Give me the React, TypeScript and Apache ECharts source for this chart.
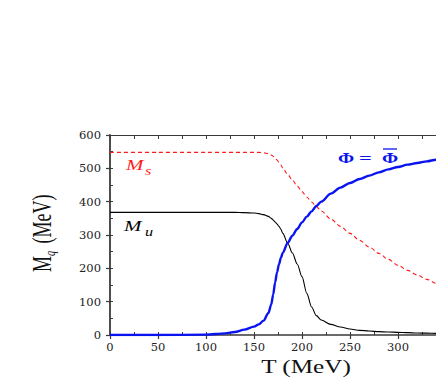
import React, { useEffect, useRef } from "react";
import * as echarts from "echarts";

const T = [0, 50, 100, 120, 130, 140, 150, 155, 160, 165, 168, 170, 172, 174, 176, 178, 180, 185, 190, 195, 200, 205, 210, 215, 220, 230, 240, 250, 260, 270, 280, 290, 300, 310, 320, 330, 340, 350];
const Mu = [368, 368, 368, 368, 368, 367, 366, 364, 361, 356, 350, 345, 339, 333, 326, 317, 305, 276, 246, 213, 175, 125, 84, 58, 45, 32, 24, 18, 14, 12, 10, 9, 8, 7, 6, 5.5, 5, 4.5];
const Ms = [548, 548, 548, 548, 548, 548, 548, 548, 547, 544, 540, 536, 530, 525, 518, 510, 501, 482, 465, 447, 430, 414, 399, 385, 372, 348, 326, 305, 284, 264, 245, 227, 209, 194, 180, 167, 155, 145];
const Phi = [0, 0, 1, 5, 9, 16, 25, 32, 43, 66, 92, 122, 158, 188, 212, 231, 247, 276, 298, 318, 338, 355, 371, 387, 400, 424, 442, 456, 468, 478, 488, 497, 504, 511, 516, 521, 526, 530];

const xLabel = "T (MeV)";
const yLabelMain = "M";
const yLabelSub = "q";
const yLabelUnit = " (MeV)";

const pairs = (ys: number[]) => T.map((t, i) => [t, ys[i]]);

const AXIS = "#3a3a3a";
const serif = "'Liberation Serif', 'Times New Roman', serif";
const BLUE = "#0a14f0";

export default function App() {
  const ref = useRef<HTMLDivElement>(null);
  useEffect(() => {
    if (!ref.current) return;
    const chart = echarts.init(ref.current, undefined, { renderer: "svg" });
    const tickFont = { fontFamily: "DejaVu Serif", fontSize: 11.5, color: "#222" };
    chart.setOption({
      animation: false,
      backgroundColor: "#fff",
      grid: { left: 110, top: 135, right: 14, bottom: 47 },
      xAxis: [
        {
          type: "value", min: 0, max: 350, interval: 50, position: "bottom",
          axisLine: { show: true, onZero: false, lineStyle: { color: AXIS, width: 1.5 } },
          axisTick: { show: true, inside: false, length: 4, lineStyle: { color: AXIS, width: 1.2 } },
          axisLabel: { ...tickFont, margin: 6, showMaxLabel: false },
          splitLine: { show: false },
        },
        {
          type: "value", min: 0, max: 350, interval: 25, position: "top",
          axisLine: { show: true, onZero: false, lineStyle: { color: AXIS, width: 1.2 } },
          axisTick: { show: true, inside: true, length: 4, lineStyle: { color: AXIS, width: 1 } },
          axisLabel: { show: false },
          splitLine: { show: false },
        },
        {
          type: "value", min: 0, max: 350, interval: 25, position: "bottom",
          axisLine: { show: false, onZero: false },
          axisTick: { show: true, inside: true, length: 3, lineStyle: { color: AXIS, width: 1 } },
          axisLabel: { show: false },
          splitLine: { show: false },
        },
      ],
      yAxis: [
        {
          type: "value", min: 0, max: 600, interval: 100, position: "left",
          axisLine: { show: true, onZero: false, lineStyle: { color: AXIS, width: 1.8 } },
          axisTick: { show: true, inside: false, length: 4, lineStyle: { color: AXIS, width: 1.2 } },
          axisLabel: { ...tickFont, margin: 9 },
          splitLine: { show: false },
        },
        {
          type: "value", min: 0, max: 600, interval: 50, position: "left",
          axisLine: { show: false, onZero: false },
          axisTick: { show: true, inside: true, length: 3, lineStyle: { color: AXIS, width: 1 } },
          axisLabel: { show: false },
          splitLine: { show: false },
        },
        {
          type: "value", min: 0, max: 600, interval: 100, position: "right",
          axisLine: { show: true, onZero: false, lineStyle: { color: AXIS, width: 1.5 } },
          axisTick: { show: true, inside: true, length: 4 },
          axisLabel: { show: false },
          splitLine: { show: false },
        },
      ],
      series: [
        {
          type: "line", name: "Ms", data: pairs(Ms), showSymbol: false, smooth: 0.3, smoothMonotone: "x",
          lineStyle: { color: "#ff1a1a", width: 1.1, type: [4, 3] }, z: 3,
        },
        {
          type: "line", name: "Mu", data: pairs(Mu), showSymbol: false, smooth: 0.3, smoothMonotone: "x",
          lineStyle: { color: "#000", width: 1.1 }, z: 3,
        },
        {
          type: "line", name: "Phi", data: pairs(Phi), showSymbol: false, smooth: 0.3, smoothMonotone: "x",
          lineStyle: { color: BLUE, width: 2.4 }, z: 4,
        },
      ],
      graphic: [
        {
          type: "text", x: 306, y: 367, scaleX: 1.4,
          style: { text: xLabel, font: `18px ${serif}`, fill: "#111", textAlign: "center", textVerticalAlign: "middle" },
        },
        {
          type: "group", x: 41, y: 236, rotation: Math.PI / 2,
          children: [
            {
              type: "text", x: -36, y: 0, scaleY: 1.55,
              style: { text: yLabelMain, font: `18px ${serif}`, fill: "#111", textAlign: "left", textVerticalAlign: "middle" },
            },
            {
              type: "text", x: -20, y: 9, scaleY: 1.55,
              style: { text: yLabelSub, font: `italic 10px ${serif}`, fill: "#111", textAlign: "left", textVerticalAlign: "middle" },
            },
            {
              type: "text", x: -12, y: 0, scaleY: 1.55,
              style: { text: yLabelUnit, font: `18px ${serif}`, fill: "#111", textAlign: "left", textVerticalAlign: "middle" },
            },
          ],
        },
        {
          type: "text", x: 126, y: 165, scaleX: 1.4,
          style: { text: "M", font: `italic 15px ${serif}`, fill: "#ff1a1a", textAlign: "left", textVerticalAlign: "middle" },
        },
        {
          type: "text", x: 145, y: 171, scaleX: 1.35,
          style: { text: "s", font: `italic 12px ${serif}`, fill: "#ff1a1a", textAlign: "left", textVerticalAlign: "middle" },
        },
        {
          type: "text", x: 124, y: 226, scaleX: 1.4,
          style: { text: "M", font: `italic 15px ${serif}`, fill: "#000", textAlign: "left", textVerticalAlign: "middle" },
        },
        {
          type: "text", x: 145, y: 232, scaleX: 1.35,
          style: { text: "u", font: `italic 12px ${serif}`, fill: "#000", textAlign: "left", textVerticalAlign: "middle" },
        },
        {
          type: "text", x: 338, y: 158, scaleX: 1.3,
          style: { text: "\u03A6", font: `bold 15px ${serif}`, fill: BLUE, textAlign: "left", textVerticalAlign: "middle" },
        },
        {
          type: "text", x: 359, y: 158, scaleX: 1.5,
          style: { text: "=", font: `bold 15px ${serif}`, fill: BLUE, textAlign: "left", textVerticalAlign: "middle" },
        },
        {
          type: "text", x: 382, y: 158, scaleX: 1.3,
          style: { text: "\u03A6", font: `bold 15px ${serif}`, fill: BLUE, textAlign: "left", textVerticalAlign: "middle" },
        },
        {
          type: "line", shape: { x1: 383, y1: 149, x2: 397, y2: 149 },
          style: { stroke: BLUE, lineWidth: 1.3 },
        },
      ],
    });
    return () => chart.dispose();
  }, []);
  return (
    <div style={{ position: "fixed", left: 0, top: 0, width: 436, height: 382, overflow: "hidden", background: "#fff" }}>
      <div ref={ref} style={{ width: 460, height: 382 }} />
    </div>
  );
}
